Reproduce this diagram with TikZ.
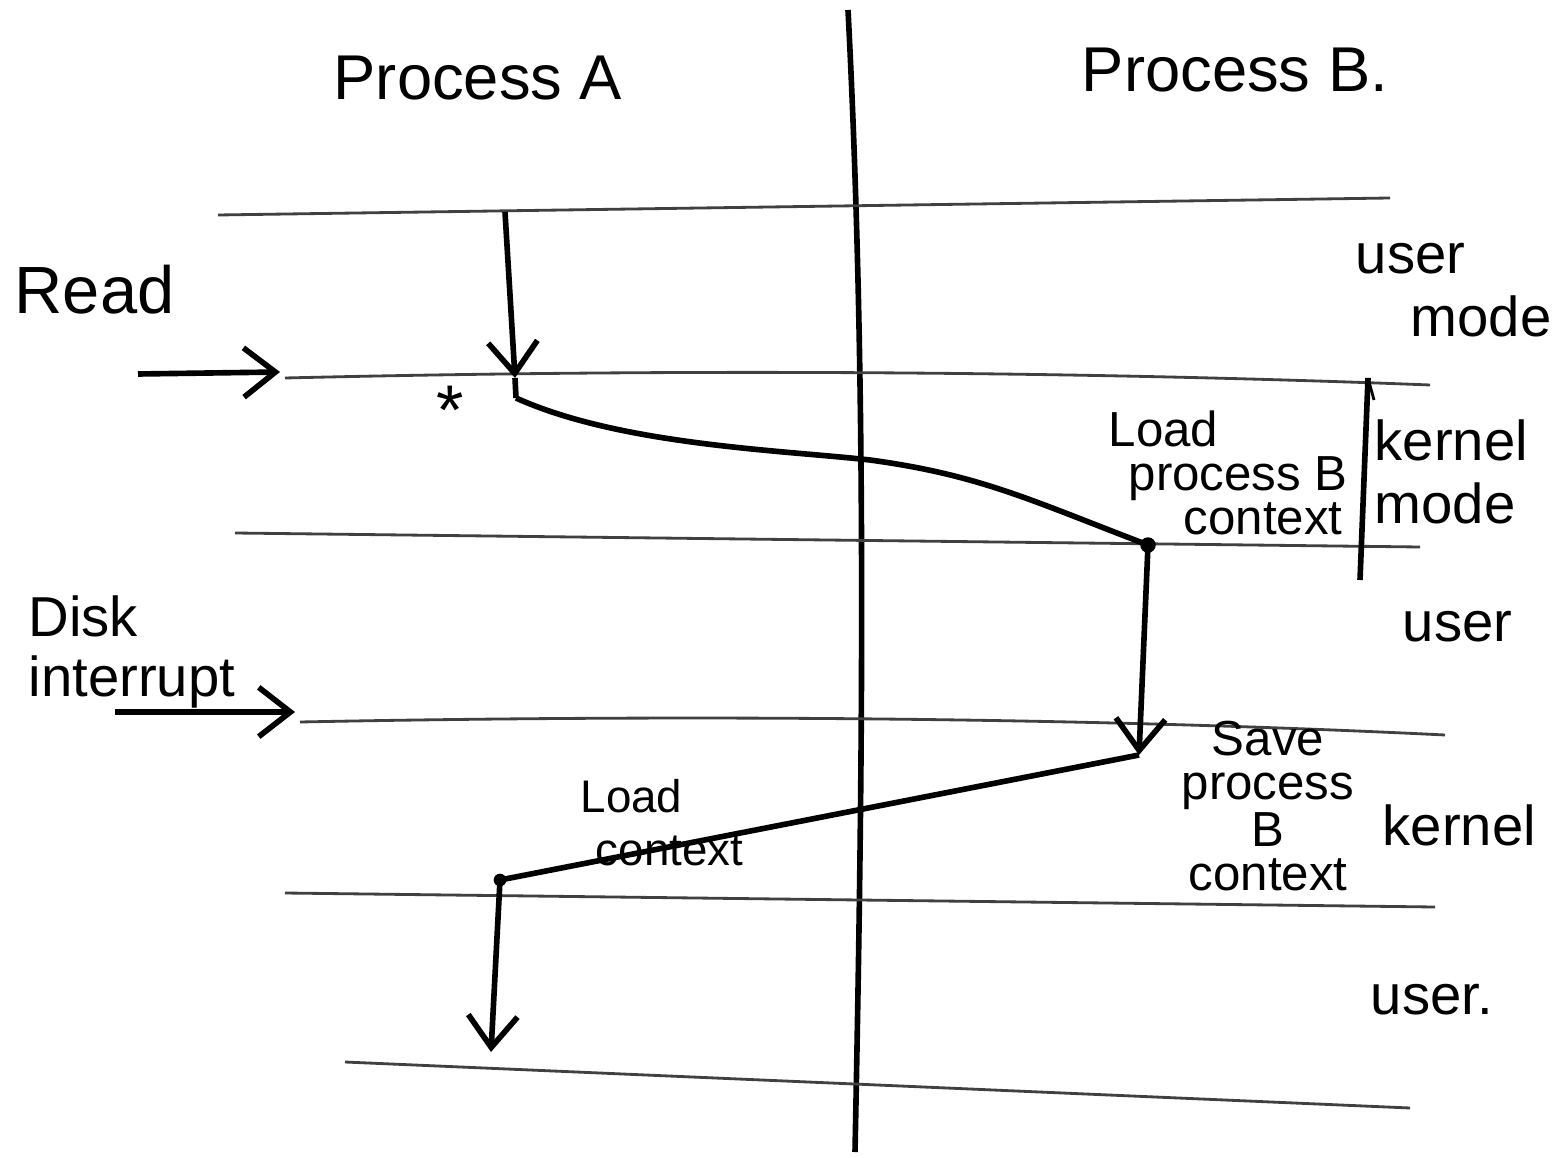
\documentclass[tikz,border=0pt]{standalone}
\usepackage{fontspec}
\setmainfont{Liberation Sans}
\usetikzlibrary{arrows.meta}
\begin{document}
\begin{tikzpicture}[x=0.01cm,y=-0.01cm,
  lane/.style={draw=black!75,line width=0.8pt},
  divider/.style={draw=black,line width=1.6pt},
  flow/.style={draw=black,line width=1.6pt},
  flowarrow/.style={flow,-{Straight Barb[length=9pt,width=14pt]}},
  lbl/.style={inner sep=0pt,align=center,font=\fontsize{14}{12.5}\selectfont},
  title/.style={inner sep=0pt,font=\fontsize{18}{20}\selectfont},
  side/.style={inner sep=0pt,align=left,font=\fontsize{16}{18}\selectfont}]
\useasboundingbox (0,0) rectangle (1558,1158);
\fill[white] (0,0) rectangle (1558,1158);

% divider
\coordinate (dvt) at (848,10);
\coordinate (dvb) at (855,1152);
\draw[divider] (dvt) .. controls (868,400) and (862,800) .. (dvb);

% horizontal lanes
\coordinate (l1a) at (218,215); \coordinate (l1b) at (1390,198);
\coordinate (l2a) at (285,378); \coordinate (l2b) at (1430,385);
\coordinate (l3a) at (235,533); \coordinate (l3b) at (1420,547);
\coordinate (l4a) at (300,722); \coordinate (l4b) at (1445,735);
\coordinate (l5a) at (285,893); \coordinate (l5b) at (1435,907);
\coordinate (l6a) at (345,1062); \coordinate (l6b) at (1410,1108);
\draw[lane] (l1a) -- (l1b);
\draw[lane] (l2a) .. controls (700,368) and (1100,372) .. (l2b);
\draw[lane] (l3a) -- (l3b);
\draw[lane] (l4a) .. controls (700,714) and (1100,718) .. (l4b);
\draw[lane] (l5a) -- (l5b);
\draw[lane] (l6a) -- (l6b);

% titles
\node[title] (pa) at (478,78) {Process A};
\node[title] (pb) at (1235,70) {Process B.};

% left labels and arrows
\node[title,anchor=west,font=\fontsize{19}{21}\selectfont] (read) at (14,290) {Read};
\coordinate (rdt) at (138,374);
\coordinate (rdh) at (280,372);
\draw[flowarrow] (rdt) -- (rdh);

\node[side,anchor=west,font=\fontsize{16}{17}\selectfont] (disk) at (28,652) {Disk\\interrupt};
\coordinate (dit) at (115,712);
\coordinate (dih) at (295,712);
\draw[flowarrow] (dit) -- (dih);

\node[inner sep=0pt,font=\fontsize{20}{22}\selectfont] (star) at (450,410) {*};

% process flow
\coordinate (p0) at (505,212);
\coordinate (p1) at (515,378);
\coordinate (p1b) at (516,398);
\coordinate (p2) at (1148,545);
\coordinate (p3) at (1139,755);
\coordinate (p4) at (500,880);
\coordinate (p5) at (491,1052);
\draw[flowarrow] (p0) -- (p1);
\draw[flow] (p1) -- (p1b);
\draw[flow] (p1b) .. controls (620,445) and (780,450) .. (870,460)
                  .. controls (980,475) and (1030,500) .. (p2);
\fill (p2) circle (2.2pt);
\draw[flowarrow] (p2) -- (p3);
\draw[flow] (p3) -- (p4);
\fill (p4) circle (1.8pt);
\draw[flowarrow] (p4) -- (p5);

% annotations
\node[lbl,align=left,anchor=west] (lpb) at (1108,473) {Load\\\hspace*{0.2cm}process B\\\hspace*{0.75cm}context};
\node[lbl] (spb) at (1268,806) {Save\\process\\B\\context};
\node[lbl,font=\fontsize{13}{15}\selectfont,align=left,anchor=west] (lc) at (580,823) {Load\\\hspace*{0.15cm}context};

% bracket
\coordinate (brt) at (1368,378);
\coordinate (brb) at (1360,580);
\draw[flow] (brb) -- (brt);
\draw[line width=0.8pt] (brt) -- (1374,400);

% side labels
\node[side,anchor=west] (um1) at (1355,290) {user\\\hspace*{0.55cm}mode};
\node[side,anchor=west] (km) at (1374,472) {kernel\\mode};
\node[side,anchor=west] (u2) at (1402,627) {user};
\node[side,anchor=west] (k2) at (1382,825) {kernel};
\node[side,anchor=west] (u3) at (1370,1000) {user.};
\end{tikzpicture}
\end{document}
